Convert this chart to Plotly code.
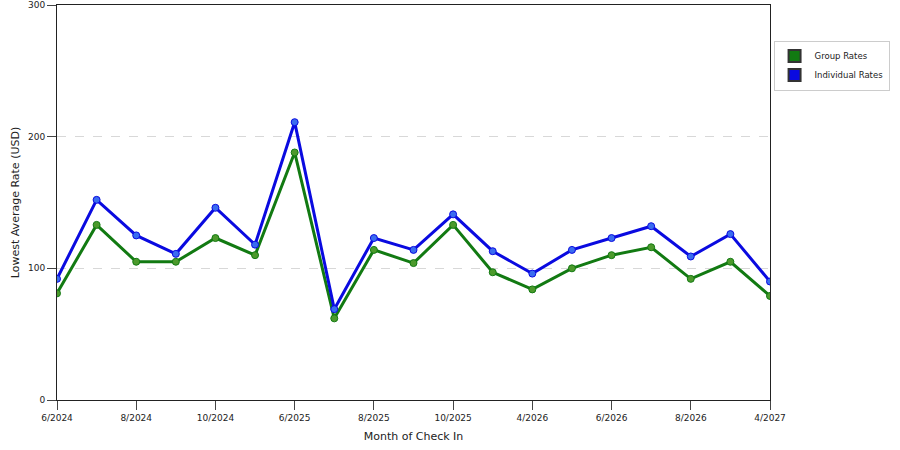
import plotly.graph_objects as go

months = ['6/2024', '7/2024', '8/2024', '9/2024', '10/2024', '11/2024',
          '6/2025', '7/2025', '8/2025', '9/2025', '10/2025', '11/2025',
          '4/2026', '5/2026', '6/2026', '7/2026', '8/2026', '9/2026', '4/2027']
group_rates = [81, 133, 105, 105, 123, 110, 188, 62, 114, 104, 133, 97,
               84, 100, 110, 116, 92, 105, 79]
individual_rates = [92, 152, 125, 111, 146, 118, 211, 69, 123, 114, 141, 113,
                    96, 114, 123, 132, 109, 126, 90]

GREEN = '#127a12'
BLUE = '#0a0ae0'

fig = go.Figure()
# lines
fig.add_trace(go.Scatter(x=months, y=group_rates, mode='lines+markers', showlegend=False,
                         line=dict(color=GREEN, width=3),
                         marker=dict(color='#4c9a2c', size=7, line=dict(color=GREEN, width=1))))
fig.add_trace(go.Scatter(x=months, y=individual_rates, mode='lines+markers', showlegend=False,
                         line=dict(color=BLUE, width=3),
                         marker=dict(color='#3a6cf0', size=7, line=dict(color=BLUE, width=1))))
# legend swatches
for name, col in [('Group Rates', GREEN), ('Individual Rates', BLUE)]:
    fig.add_trace(go.Scatter(x=[None], y=[None], mode='markers', name=name,
                             marker=dict(symbol='square', size=12, color=col,
                                         line=dict(color='#333333', width=1))))

font = dict(family='DejaVu Sans', size=9, color='#222222')
fig.update_layout(
    width=900, height=450,
    margin=dict(l=57, r=130, t=5, b=50, autoexpand=False),
    plot_bgcolor='white', paper_bgcolor='white',
    font=font,
    legend=dict(x=1.005, y=0.91, xanchor='left', yanchor='top',
                bordercolor='#cccccc', borderwidth=1, font=dict(size=8.5),
                itemsizing='constant', itemwidth=30, tracegroupgap=2),
    xaxis=dict(type='category', range=[0, 18], automargin=False,
               tickvals=months[::2], ticks='outside', ticklen=9,
               showline=True, linecolor='#222222', mirror=True, showgrid=False,
               title=dict(text='Month of Check In', standoff=10)),
    yaxis=dict(range=[0, 300], tickvals=[0, 100, 200, 300], ticks='outside', ticklen=9,
               automargin=False,
               showline=True, linecolor='#222222', mirror=True, zeroline=False,
               showgrid=True, gridcolor='#d8d8d8', griddash='dash',
               title=dict(text='Lowest Average Rate (USD)', standoff=6)),
)

# the page has a default 8px body margin; drop it so the figure sits at 0,0
fig.write_html('out.html', config={'displayModeBar': False},
               post_script="document.body.style.margin='0';")
